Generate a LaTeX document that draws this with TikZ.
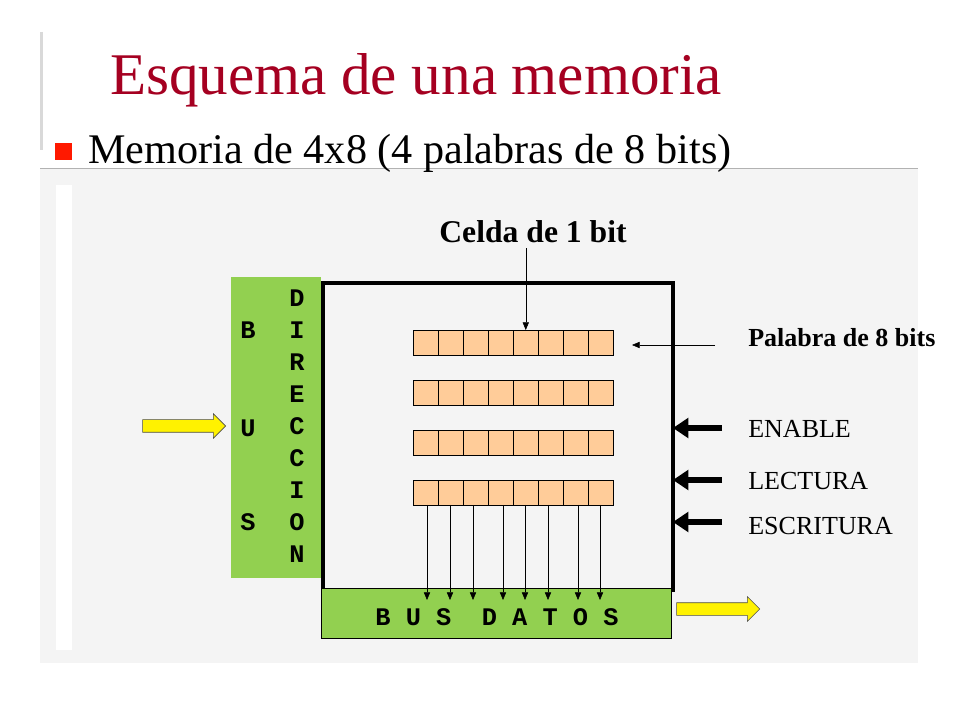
\documentclass[tikz,border=0pt]{standalone}
\usepackage{fontspec}
\setmainfont{Liberation Serif}
\setmonofont{Liberation Mono}
\usetikzlibrary{shapes.arrows, arrows.meta}
\definecolor{titlered}{HTML}{A50021}
\definecolor{busgreen}{HTML}{92D050}
\definecolor{cellfill}{HTML}{FFCC99}
\definecolor{panelgray}{HTML}{F4F4F4}
\newlength{\unitpx}
\setlength{\unitpx}{0.025cm}
\tikzstyle{cell} = [rectangle, draw=black, fill=cellfill, minimum width=25\unitpx, minimum height=25\unitpx, inner sep=0pt, anchor=north west]
\tikzstyle{bus} = [rectangle, draw=black, fill=busgreen, inner sep=0pt, anchor=north west]
\tikzstyle{busletter} = [font=\ttfamily\bfseries\fontsize{18}{18}\selectfont, inner sep=0pt]
\tikzstyle{ctrl} = [font=\fontsize{18.5}{18.5}\selectfont, anchor=west, inner sep=0pt]
\tikzstyle{fatarrow} = [single arrow, draw=black!70, fill=yellow, minimum height=83\unitpx, single arrow head extend=6\unitpx, inner sep=0pt, single arrow tip angle=90]
\tikzstyle{ctrlarrow} = [line width=6\unitpx, -{Triangle[length=11pt, width=14pt]}]
\tikzstyle{arrow} = [-{Triangle[length=5.5pt, width=4.5pt]}]
\begin{document}
\begin{tikzpicture}[x=0.025cm, y=-0.025cm]
    \useasboundingbox (0,0) rectangle (960,720);
    \fill[white] (0,0) rectangle (960,720);
    \fill[panelgray] (40,168) rectangle (918,663);
    \draw[black!30] (40,168) -- (918,168);
    \fill[white] (56,185) rectangle (72,650);
    \draw[black!15, line width=3\unitpx] (41,32) -- (41,150);
    % title and bullet
    \node (title) at (416,80) [text=titlered, font=\fontsize{42}{42}\selectfont] {Esquema de una memoria};
    \fill[red!80!orange] (55,143) rectangle (72,160);
    \node (sub) at (88,153) [anchor=west, inner sep=0pt, font=\fontsize{30}{30}\selectfont] {Memoria de 4x8 (4 palabras de 8 bits)};
    % memory box and buses
    \node (addr) at (231,277) [bus, draw=none, minimum width=90\unitpx, minimum height=301\unitpx] {};
    \node (mem) at (321,281) [rectangle, draw=black, line width=4\unitpx, minimum width=350\unitpx, minimum height=307\unitpx, anchor=north west] {};
    \node (data) at (321,588) [bus, minimum width=350\unitpx, minimum height=50\unitpx] {};
    \node (datatext) at (497,617) [busletter] {B U S \ D A T O S};
    \foreach \l [count=\i from 0] in {D,I,R,E,C,C,I,O,N}
        \node (dir\i) at (297,298+32*\i) [busletter] {\l};
    \node (b1) at (248,330) [busletter] {B};
    \node (b2) at (248,428) [busletter] {U};
    \node (b3) at (248,522) [busletter] {S};
    % cells
    \foreach \r in {0,...,3}
        \foreach \c in {0,...,7}
            \node (c\r\c) at (413+25*\c,330+50*\r) [cell] {};
    % labels
    \node (celda) at (533,232) [font=\bfseries\fontsize{22.5}{22.5}\selectfont] {Celda de 1 bit};
    \draw [arrow] (celda.south -| c04.north) -- (c04.north);
    \node (palabra) at (748,338) [anchor=west, inner sep=0pt, font=\bfseries\fontsize{18.5}{18.5}\selectfont] {Palabra de 8 bits};
    \coordinate (pstart) at (715,345);
    \coordinate (pend) at (632,345);
    \draw [arrow] (pstart) -- (pend);
    \foreach \c/\x in {0/427,1/450,2/473,3/503,4/525,5/548,6/578,7/600}
        \draw [arrow] (\x,505) -- (\x,600);
    % control lines
    \node (en) at (748,429) [ctrl] {ENABLE};
    \node (le) at (748,481) [ctrl] {LECTURA};
    \node (es) at (748,526) [ctrl] {ESCRITURA};
    \foreach \n/\y in {en/428,le/480,es/522}
        \draw [ctrlarrow] (722,\y) -- (673,\y);
    % yellow arrows
    \node (inarrow) at (181,426) [fatarrow] {\rule{0pt}{12\unitpx}};
    \node (outarrow) at (715,609) [fatarrow] {\rule{0pt}{12\unitpx}};
\end{tikzpicture}
\end{document}
